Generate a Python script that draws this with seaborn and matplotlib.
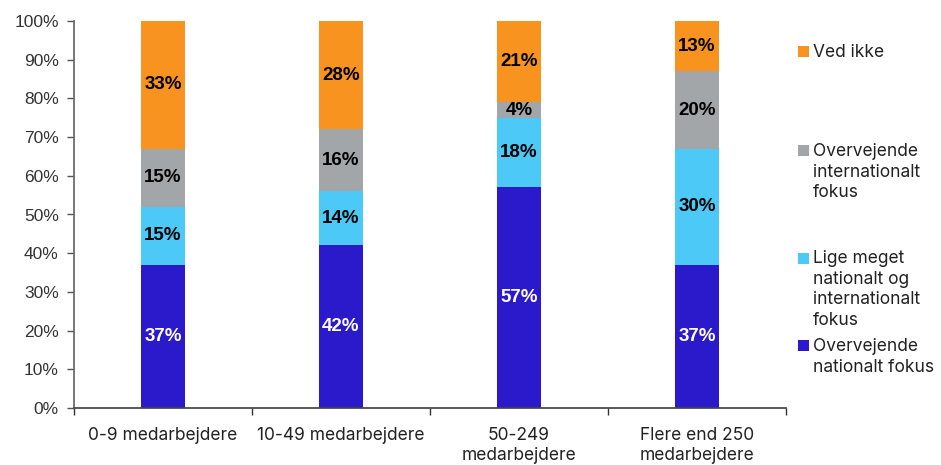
import seaborn as sns
import numpy as np
import matplotlib.pyplot as plt
from matplotlib.patches import Rectangle
from matplotlib.ticker import PercentFormatter, FixedLocator

# data
categories = ["0-9 medarbejdere", "10-49 medarbejdere", "50-249\nmedarbejdere", "Flere end 250\nmedarbejdere"]
nationalt = [37, 42, 57, 37]
lige_meget = [15, 14, 18, 30]
internationalt = [15, 16, 4, 20]
ved_ikke = [33, 28, 21, 13]

series = [
  ("Overvejende\nnationalt fokus", nationalt, "#2a1acb", "white"),
  ("Lige meget\nnationalt og\ninternationalt\nfokus", lige_meget, "#4dc9f7", "black"),
  ("Overvejende\ninternationalt\nfokus", internationalt, "#a2a6a9", "black"),
  ("Ved ikke", ved_ikke, "#f7931e", "black"),
]

sns.set_theme(style="white")
plt.rcParams["font.family"] = ["Liberation Sans", "DejaVu Sans"]

W, H = 941, 465
fig = plt.figure(figsize=(W / 100, H / 100), dpi=100)
ax = fig.add_axes([74 / W, 1 - 408 / H, (786 - 74) / W, (408 - 21) / H])

bottom = np.zeros(len(categories))
for label, vals, color, txt_color in series:
  sns.barplot(x=categories, y=vals, bottom=bottom, color=color, width=0.25,
              saturation=1, ax=ax, linewidth=0)
  cont = ax.containers[-1]
  ax.bar_label(cont, labels=[f"{v}%" for v in vals], label_type="center",
               color=txt_color, fontweight="bold", fontsize=13.5)
  bottom = bottom + np.array(vals)

ax.set_ylim(0, 100)
ax.set_xlim(-0.5, len(categories) - 0.5)
ax.yaxis.set_major_locator(FixedLocator(range(0, 101, 10)))
ax.yaxis.set_major_formatter(PercentFormatter(decimals=0))
ax.tick_params(axis="y", labelsize=12.5, length=5, width=1, color="#555555", direction="out", left=True, pad=6)
ax.tick_params(axis="x", which="major", length=0, pad=14)
ax.set_xticks(np.arange(-0.5, len(categories), 1.0), minor=True)
ax.tick_params(axis="x", which="minor", length=5, width=1, color="#333333", direction="out", bottom=True)
for t in ax.get_xticklabels():
  t.set_family(["Inter", "DejaVu Sans"])
  t.set_fontsize(12.5)
  t.set_color("#222222")
  t.set_linespacing(1.2)
for t in ax.get_yticklabels():
  t.set_color("#333333")

sns.despine(ax=ax)
ax.spines["left"].set_color("#666666")
ax.spines["bottom"].set_color("#444444")
ax.set_xlabel("")
ax.set_ylabel("")

# legend entries, square aligned with first line of each label
legend_y = {"Ved ikke": 52, "Overvejende\ninternationalt\nfokus": 151,
            "Lige meget\nnationalt og\ninternationalt\nfokus": 258,
            "Overvejende\nnationalt fokus": 346}
for label, vals, color, _ in series:
  y = legend_y[label]
  fig.patches.append(Rectangle((798 / W, 1 - (y + 5.5) / H), 11 / W, 11 / H,
                               transform=fig.transFigure, facecolor=color, edgecolor="none"))
  fig.text(813 / W, 1 - (y - 8) / H, label, ha="left", va="top",
           family=["Inter", "DejaVu Sans"], fontsize=12.5, color="#222222", linespacing=1.27)

fig.savefig("out.png", dpi=100)
